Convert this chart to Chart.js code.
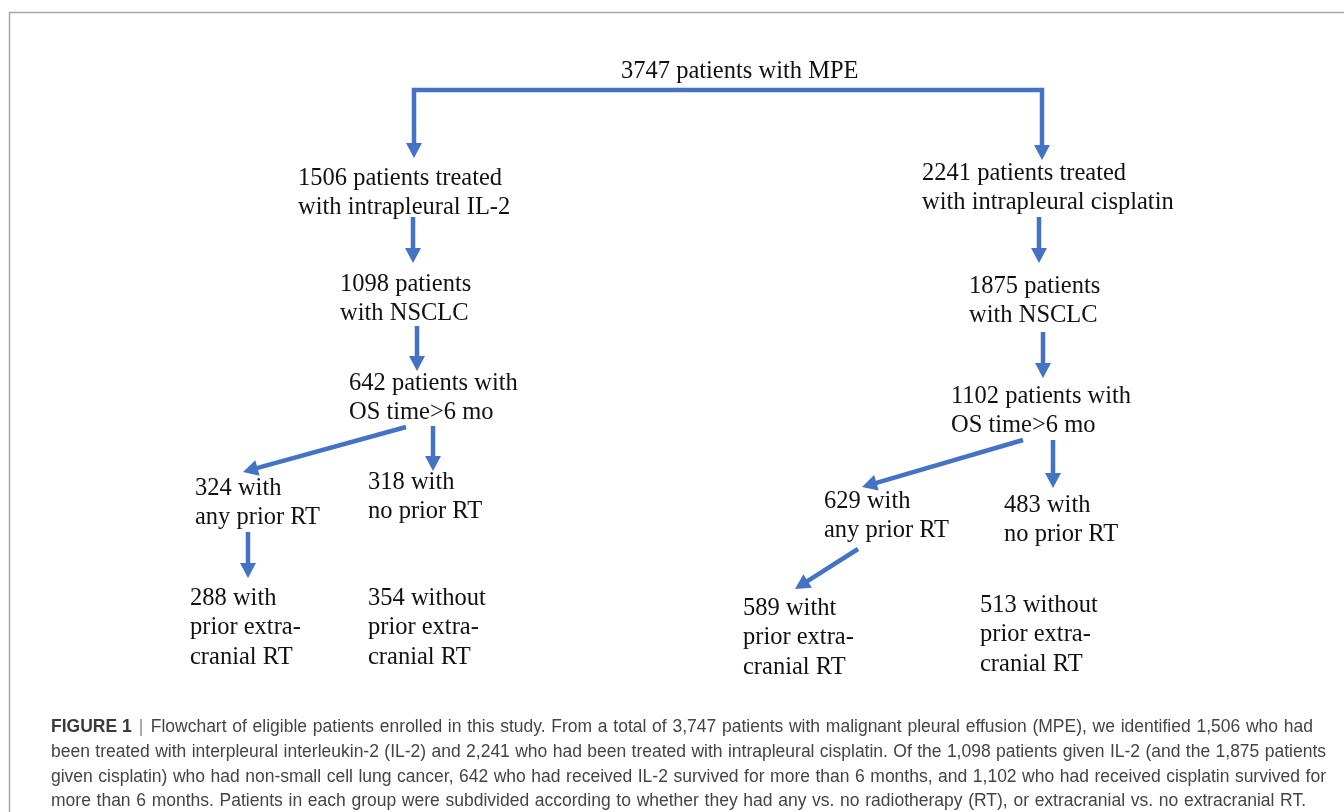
<!DOCTYPE html>
<html>
<head>
<meta charset="utf-8">
<title>Flowchart</title>
<script src="https://cdn.jsdelivr.net/npm/chart.js@4.4.1/dist/chart.umd.min.js"></script>
<style>
  html, body { margin: 0; padding: 0; background: #fff; }
  #wrap { width: 1344px; height: 812px; }
</style>
</head>
<body>
<div id="wrap"><canvas id="flow" width="1344" height="812"></canvas></div>
<script>
// patient counts at each step
const counts = [3747, 1506, 2241, 1098, 1875, 642, 1102, 324, 318, 288, 354, 629, 483, 589, 513];

// text of each box, '#' gets the count
const nodeLines = [
  ['# patients with MPE'],
  ['# patients treated', 'with intrapleural IL-2'],
  ['# patients treated', 'with intrapleural cisplatin'],
  ['# patients', 'with NSCLC'],
  ['# patients', 'with NSCLC'],
  ['# patients with', 'OS time>6 mo'],
  ['# patients with', 'OS time>6 mo'],
  ['# with', 'any prior RT'],
  ['# with', 'no prior RT'],
  ['# with', 'prior extra-', 'cranial RT'],
  ['# without', 'prior extra-', 'cranial RT'],
  ['# with', 'any prior RT'],
  ['# with', 'no prior RT'],
  ['# witht', 'prior extra-', 'cranial RT'],
  ['# without', 'prior extra-', 'cranial RT']
];

const captionLabel = 'FIGURE 1';
const captionLines = [
  'Flowchart of eligible patients enrolled in this study. From a total of 3,747 patients with malignant pleural effusion (MPE), we identified 1,506 who had',
  'been treated with interpleural interleukin-2 (IL-2) and 2,241 who had been treated with intrapleural cisplatin. Of the 1,098 patients given IL-2 (and the 1,875 patients',
  'given cisplatin) who had non-small cell lung cancer, 642 who had received IL-2 survived for more than 6 months, and 1,102 who had received cisplatin survived for',
  'more than 6 months. Patients in each group were subdivided according to whether they had any vs. no radiotherapy (RT), or extracranial vs. no extracranial RT.'
];

// ---- layout (page units, y down) ----
const nodePos = [
  [621, 69], [298, 176], [922, 171], [340, 282], [969, 284],
  [349, 381], [951, 394], [195, 486], [368, 480], [190, 596],
  [368, 596], [824, 499], [1004, 503], [743, 606], [980, 603]
];
const lineGap = 29.5;

// connectors; arrowhead at the last point (and the first one if both)
const links = [
  { pts: [[414, 158], [414, 90], [1042, 90], [1042, 160]], both: true },
  { pts: [[413, 217], [413, 263]] },
  { pts: [[417, 326], [417, 371]] },
  { pts: [[1039, 217], [1039, 263]] },
  { pts: [[1043, 332], [1043, 378]] },
  { pts: [[406, 427], [243, 472]] },
  { pts: [[433, 426], [433, 471]] },
  { pts: [[248, 532], [248, 578]] },
  { pts: [[1023, 440], [862, 487]] },
  { pts: [[1053, 440], [1053, 488]] },
  { pts: [[858, 549], [795, 589]] }
];
const captionY = [726, 751, 776, 800];
const captionRight = [1313, 1326, 1326, 1306];

const blue = '#4472c4';
const headLen = 15, headHalf = 8;

// pull an arrowed end back so the line stops inside the head
function backOff(p, q) {
  const dx = p[0] - q[0], dy = p[1] - q[1];
  const d = Math.hypot(dx, dy);
  return { x: p[0] - dx / d * headLen * 0.7, y: p[1] - dy / d * headLen * 0.7 };
}

const datasets = links.map(l => {
  const pts = l.pts.map(p => ({ x: p[0], y: p[1] }));
  const n = pts.length;
  pts[n - 1] = backOff(l.pts[n - 1], l.pts[n - 2]);
  if (l.both) pts[0] = backOff(l.pts[0], l.pts[1]);
  return {
    data: pts,
    showLine: true,
    borderColor: blue,
    borderWidth: 4.5,
    borderCapStyle: 'butt',
    borderJoinStyle: 'miter',
    pointRadius: 0,
    fill: false,
    tension: 0
  };
});

function drawHead(ctx, xs, ys, tip, from) {
  const tx = xs.getPixelForValue(tip[0]), ty = ys.getPixelForValue(tip[1]);
  const fx = xs.getPixelForValue(from[0]), fy = ys.getPixelForValue(from[1]);
  const a = Math.atan2(ty - fy, tx - fx);
  ctx.beginPath();
  ctx.moveTo(tx, ty);
  ctx.lineTo(tx - headLen * Math.cos(a) + headHalf * Math.sin(a), ty - headLen * Math.sin(a) - headHalf * Math.cos(a));
  ctx.lineTo(tx - headLen * Math.cos(a) - headHalf * Math.sin(a), ty - headLen * Math.sin(a) + headHalf * Math.cos(a));
  ctx.closePath();
  ctx.fill();
}

// justify words between x0 and x1
function justify(ctx, text, x0, x1, y) {
  const words = text.split(' ');
  const ws = words.map(w => ctx.measureText(w).width);
  const total = ws.reduce((a, b) => a + b, 0);
  const sp = ctx.measureText(' ').width;
  let gap = (x1 - x0 - total) / (words.length - 1);
  let sx = 1;
  if (gap < sp * 0.8) {
    gap = sp * 0.8;
    sx = (x1 - x0) / (total + gap * (words.length - 1));
  }
  ctx.save();
  ctx.translate(x0, y);
  ctx.scale(sx, 1);
  let x = 0;
  words.forEach((w, i) => { ctx.fillText(w, x, 0); x += ws[i] + gap; });
  ctx.restore();
}

const decor = {
  id: 'decor',
  beforeDraw(chart) {
    const ctx = chart.ctx;
    ctx.save();
    ctx.fillStyle = '#fff';
    ctx.fillRect(0, 0, chart.width, chart.height);
    ctx.restore();
  },
  afterDatasetsDraw(chart) {
    const ctx = chart.ctx, xs = chart.scales.x, ys = chart.scales.y;
    ctx.save();
    ctx.fillStyle = blue;
    links.forEach(l => {
      const n = l.pts.length;
      drawHead(ctx, xs, ys, l.pts[n - 1], l.pts[n - 2]);
      if (l.both) drawHead(ctx, xs, ys, l.pts[0], l.pts[1]);
    });
    ctx.restore();
  },
  afterDraw(chart) {
    const ctx = chart.ctx, xs = chart.scales.x, ys = chart.scales.y;
    ctx.save();
    // frame
    ctx.strokeStyle = '#a8a8a8';
    ctx.lineWidth = 1.5;
    ctx.beginPath();
    ctx.moveTo(9.5, chart.height);
    ctx.lineTo(9.5, 12.5);
    ctx.lineTo(chart.width, 12.5);
    ctx.stroke();

    // box text
    ctx.fillStyle = '#111';
    ctx.font = '24.5px "Liberation Serif", "Times New Roman", serif';
    ctx.textBaseline = 'alphabetic';
    ctx.textAlign = 'left';
    nodeLines.forEach((lines, i) => {
      lines.forEach((t, j) => {
        const txt = t.replace('#', counts[i]);
        const px = xs.getPixelForValue(nodePos[i][0]);
        const py = ys.getPixelForValue(nodePos[i][1] + j * lineGap) + 8.5;
        ctx.fillText(txt, px, py);
      });
    });

    // caption
    const capFont = '17.5px "Liberation Sans", Arial, sans-serif';
    ctx.fillStyle = '#3a3a3a';
    let x0 = 51;
    ctx.font = 'bold ' + capFont;
    ctx.fillText(captionLabel, x0, captionY[0] + 6);
    x0 += ctx.measureText(captionLabel).width;
    ctx.font = capFont;
    ctx.fillStyle = '#888';
    ctx.fillText('|', x0 + 7, captionY[0] + 6);
    ctx.fillStyle = '#444';
    captionLines.forEach((t, i) => {
      const start = i === 0 ? x0 + 19 : 51;
      justify(ctx, t, start, captionRight[i], captionY[i] + 6);
    });
    ctx.restore();
  }
};

new Chart(document.getElementById('flow'), {
  type: 'scatter',
  data: { datasets: datasets },
  options: {
    responsive: false,
    animation: false,
    layout: { padding: 0 },
    plugins: { legend: { display: false }, tooltip: { enabled: false } },
    scales: {
      x: { type: 'linear', min: 0, max: 1344, display: false },
      y: { type: 'linear', min: 0, max: 812, reverse: true, display: false }
    }
  },
  plugins: [decor]
});
</script>
</body>
</html>
